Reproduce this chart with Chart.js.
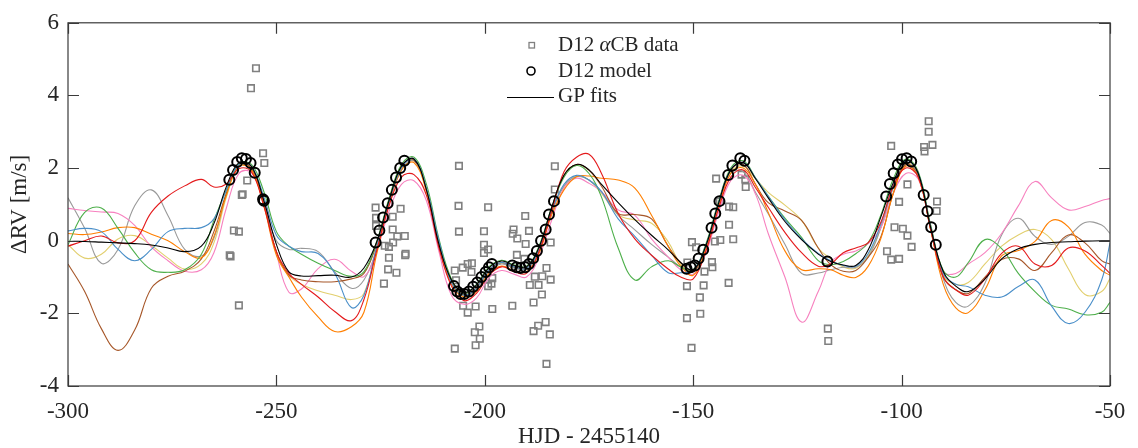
<!DOCTYPE html>
<html>
<head>
<meta charset="utf-8">
<script src="https://cdn.jsdelivr.net/npm/chart.js@4.4.1/dist/chart.umd.min.js"></script>
<style>
  html, body { margin: 0; padding: 0; background: #fff; }
  #wrap { width: 1138px; height: 448px; }
</style>
</head>
<body>
<div id="wrap"><canvas id="rvChart" width="1138" height="448"></canvas></div>
<script>
// tick values
const xTickValues = [-300, -250, -200, -150, -100, -50];
const yTickValues = [-4, -2, 0, 2, 4, 6];

// D12 alpha-CB data (grey squares)
const dataX = [-254.9, -256.1, -253.2, -252.9, -257.0, -258.1, -258.3, -260.2, -259.0, -261.0, -261.2, -259.0,
  -226.2, -226.1, -226.1, -220.2, -222.1, -222.1, -221.0, -219.2, -222.0, -224.0, -223.0, -219.0, -219.1, -223.0, -223.2, -221.2, -224.2,
  -206.2, -206.3, -199.2, -206.2, -200.2, -200.2, -199.2, -200.2, -207.2, -205.3, -204.1, -203.1, -203.2, -198.2, -198.4, -199.2, -206.9,
  -205.2, -204.1, -202.2, -198.2, -201.3, -202.4, -201.2, -202.2, -207.2,
  -193.4, -193.1, -193.3, -192.2, -190.3, -189.4, -190.2, -192.3, -190.5, -188.0, -186.2, -185.2, -184.2, -189.2, -187.1, -186.3,
  -188.3, -188.3, -187.2, -185.4, -184.4, -185.2, -184.2, -183.2, -183.2,
  -144.5, -138.4, -137.5, -137.4, -143.6, -141.4, -140.4, -141.4, -140.4, -143.5, -144.8, -150.3, -149.3, -151.4, -145.5, -145.4,
  -147.3, -151.5, -147.5, -141.5, -148.4, -148.3, -151.5, -150.4,
  -117.7, -117.6,
  -93.5, -93.5, -92.6, -94.6, -94.5, -102.5, -98.6, -100.6, -91.5, -91.6, -101.7, -99.7, -98.6, -97.6, -103.5, -102.5, -100.6];
const dataY = [4.75, 4.2, 2.41, 2.14, 1.66, 1.28, 1.26, 0.28, 0.25, -0.43, -0.4, -1.78,
  0.91, 0.63, 0.41, 0.88, 0.66, 0.31, 0.12, 0.13, -0.05, -0.14, -0.17, -0.36, -0.4, -0.47, -0.79, -0.88, -1.18,
  2.06, 0.96, 0.92, 0.25, 0.26, -0.11, -0.24, -0.34, -0.82, -0.74, -0.64, -0.62, -0.86, -1.03, -1.18, -1.25, -1.09,
  -1.79, -1.98, -1.81, -1.88, -2.36, -2.52, -2.7, -2.88, -2.97,
  -1.79, 0.31, 0.19, 0.06, 0.68, 0.27, -0.09, -0.39, -0.5, -0.99, -0.98, -0.75, -1.07, -1.22, -1.22, -1.48,
  -1.7, -2.49, -2.34, -2.24, -2.58, -3.39, -0.05, 1.41, 2.05,
  1.71, 1.82, 1.69, 1.48, 1.08, 0.94, 0.92, 0.44, 0.04, 0.02, -0.02, -0.04, -0.18, -0.6, -0.59, -0.73,
  -0.85, -1.25, -1.23, -1.16, -1.56, -2.01, -2.13, -2.95,
  -2.42, -2.76,
  3.29, 3.0, 2.64, 2.58, 2.46, 2.61, 1.55, 1.07, 1.08, 0.82, 0.37, 0.33, 0.14, -0.17, -0.29, -0.52, -0.5];

// D12 model (black circles)
const modelX = [-261.3, -260.4, -259.4, -258.3, -257.3, -256.2, -255.2, -253.2, -253.0,
  -226.2, -225.3, -224.4, -223.3, -222.3, -221.3, -220.3, -219.3,
  -207.4, -206.6, -205.8, -204.9, -203.8, -202.8, -201.8, -200.8, -199.8, -199.0, -198.3,
  -193.4, -192.4, -191.4, -190.3, -189.4, -188.4, -187.5, -186.5, -185.4, -184.6, -183.4,
  -151.6, -150.6, -149.6, -148.7, -147.6, -145.6, -144.7, -143.7, -141.6, -140.6, -138.7, -137.7,
  -117.8,
  -103.7, -102.8, -101.9, -100.9, -99.9, -98.8, -97.7, -94.7, -93.8, -92.9, -91.8];
const modelY = [1.68, 1.95, 2.17, 2.27, 2.25, 2.14, 1.87, 1.14, 1.1,
  -0.05, 0.28, 0.64, 1.03, 1.4, 1.74, 2.0, 2.2,
  -1.25, -1.4, -1.47, -1.47, -1.4, -1.27, -1.15, -1.0, -0.86, -0.73, -0.64,
  -0.68, -0.73, -0.75, -0.73, -0.64, -0.48, -0.28, 0.0, 0.31, 0.72, 1.09,
  -0.77, -0.73, -0.68, -0.49, -0.25, 0.36, 0.75, 1.09, 1.81, 2.07, 2.27, 2.2,
  -0.57,
  1.22, 1.56, 1.86, 2.1, 2.24, 2.27, 2.18, 1.26, 0.81, 0.37, -0.11];

// GP fits, sampled at common x knots
const fitX = [-300, -296, -292, -288, -284, -280, -276, -272, -268,
  -265, -262, -259, -256, -253, -250,
  -247, -244, -240, -236, -232, -229,
  -226, -223, -220, -217, -214, -211, -208, -205,
  -202, -199, -196, -193, -190, -187,
  -184, -181, -178, -175,
  -172, -168, -164, -160, -156, -153, -150,
  -147, -144, -141,
  -138, -135, -132, -128, -124, -120, -117, -114, -111, -108, -105,
  -102, -99, -96, -93,
  -90, -87, -84, -80, -76, -72, -68, -64, -60, -56, -52, -50];

const fitBlack = [-0.02, -0.02, -0.04, -0.06, -0.08, -0.12, -0.2, -0.3, -0.15,
  0.47, 1.49, 2.15, 2.05, 1.1, -0.1,
  -0.86, -0.97, -0.96, -0.95, -1.0, -0.75,
  -0.05, 1.1, 2.05, 2.25, 1.4, -0.1, -1.08, -1.42,
  -1.22, -0.75, -0.56, -0.68, -0.72, -0.18,
  0.9, 1.8, 2.1, 1.95,
  1.55, 1.05, 0.58, 0.15, -0.25, -0.6, -0.8,
  -0.15, 1.0, 1.95,
  2.15, 1.7, 1.18, 0.53, 0.03, -0.37, -0.57, -0.67, -0.68, -0.25, 0.65,
  1.6, 2.22, 1.85, 0.35,
  -0.85, -1.25, -1.4, -1.05, -0.5, -0.22, -0.1, -0.05, -0.03, -0.01, 0.0, 0.0];
const fitRed = [-0.15, 0.0, 0.13, -0.06, 0.0, 0.78, 1.23, 1.51, 1.69,
  1.48, 1.56, 1.98, 1.9, 0.95, -0.3,
  -0.9, -1.2, -1.55, -1.95, -2.2, -1.62,
  -0.3, 0.95, 1.75, 1.82, 1.25, -0.2, -1.25, -1.65,
  -1.45, -0.95, -0.72, -0.85, -0.9, -0.3,
  0.8, 1.9, 2.3, 2.38,
  1.85, 0.75, 0.05, -0.4, -0.78, -1.0, -1.05,
  -0.3, 0.85, 1.75,
  1.95, 1.45, 0.92, 0.23, -0.33, -0.7, -0.64, -0.33, -0.2, -0.05, 0.5,
  1.5, 2.0, 1.75, 0.3,
  -1.0, -1.35, -1.5, -1.05, -0.35, -0.15, -0.64, -0.68, -0.2, -0.28, -0.68, -0.9];
const fitBlue = [0.27, 0.34, 0.25, -0.24, -0.55, -0.24, 0.25, 0.34, 0.36,
  0.6, 1.4, 2.1, 2.05, 1.2, 0.15,
  -0.15, -0.3, -0.35, -0.9, -1.84, -1.5,
  -0.2, 1.05, 2.0, 2.25, 1.45, 0.0, -1.15, -1.5,
  -1.3, -0.8, -0.6, -0.72, -0.76, -0.25,
  0.8, 1.55, 1.8, 1.67,
  1.35, 0.6, 0.12, -0.4, -0.88, -0.88, -0.82,
  -0.15, 1.0, 1.95,
  2.15, 1.72, 1.22, 0.58, 0.05, -0.35, -0.55, -0.68, -0.7, -0.35, 0.45,
  1.55, 2.2, 1.85, 0.35,
  -0.9, -1.2, -1.27, -1.5, -1.55, -1.26, -1.08, -1.8, -2.28, -1.97, -1.08, -0.06];
const fitGreen = [-0.11, 0.78, 0.9, 0.34, -0.33, -0.8, -0.87, -0.8, -0.37,
  0.56, 1.4, 2.12, 2.1, 1.35, 0.25,
  -0.15, -0.37, -0.62, -0.82, -0.98, -0.85,
  -0.05, 1.15, 2.1, 2.3, 1.55, 0.05, -1.05, -1.45,
  -1.2, -0.72, -0.54, -0.66, -0.7, -0.15,
  0.9, 1.75, 2.07, 1.85,
  1.2, -0.2, -1.08, -0.72, -0.55, -0.72, -0.8,
  -0.1, 1.05, 2.0,
  2.2, 1.72, 1.23, 0.62, 0.09, -0.55, -0.66, -0.57, -0.36, -0.05, 0.7,
  1.7, 2.25, 1.9, 0.42,
  -0.82, -1.0, -0.6, 0.03, -0.22, -0.9, -1.4, -1.78, -1.88, -2.04, -1.97, -1.7];
const fitOrange = [0.2, 0.17, 0.24, 0.36, 0.36, 0.18, 0.0, -0.3, -0.47,
  0.12, 1.25, 2.05, 1.95, 0.95, -0.4,
  -1.0, -1.55, -2.1, -2.5, -2.37, -1.97,
  -0.4, 1.0, 1.95, 2.15, 1.35, -0.15, -1.2, -1.55,
  -1.4, -0.9, -0.7, -0.82, -0.86, -0.35,
  0.7, 1.4, 1.76, 1.78,
  1.72, 1.67, 1.45, 0.7, -0.15, -0.7, -0.95,
  -0.25, 0.9, 1.85,
  2.0, 1.54, 0.78, -0.28, -0.8, -0.77, -0.8, -0.95, -1.01, -0.7, 0.05,
  1.3, 2.05, 1.75, 0.28,
  -1.2, -1.85, -1.98, -1.35, -0.42, -0.27, -0.02, 0.56, 0.38, -0.37, -0.82, -0.95];
const fitBrown = [-0.64, -1.4, -2.42, -3.02, -2.46, -1.31, -0.98, -0.84, -0.5,
  0.25, 1.3, 2.1, 2.0, 1.0, -0.3,
  -0.95, -1.08, -1.13, -1.13, -1.05, -0.9,
  -0.1, 1.1, 2.05, 2.22, 1.4, -0.1, -1.12, -1.48,
  -1.28, -0.8, -0.6, -0.72, -0.75, -0.22,
  0.88, 1.8, 2.1, 1.94,
  1.5, 0.75, 0.72, 0.6, -0.15, -0.6, -0.85,
  -0.15, 1.0, 1.95,
  2.1, 1.54, 1.05, 0.82, 0.56, -0.2, -0.66, -0.84, -0.82, -0.45, 0.1,
  1.3, 2.1, 1.8, 0.3,
  -1.0, -1.35, -1.45, -1.0, -0.52, -0.5, -0.82, -0.33, 0.16, -0.06, -0.55, -0.64];
const fitPink = [0.89, 0.83, 0.79, 0.75, 0.42, -0.17, -0.55, -0.84, -0.8,
  -0.33, 0.9, 1.85, 1.88, 1.0, -0.35,
  -1.42, -1.33, -0.77, -0.51, -0.84, -0.99,
  -0.3, 0.8, 1.55, 1.65, 1.1, -0.3, -1.5, -1.75,
  -1.58, -1.02, -0.82, -0.92, -1.0, -0.45,
  0.55, 1.45, 1.72, 1.58,
  1.35, 0.85, 0.7, 0.05, -0.45, -0.8, -0.92,
  -0.35, 0.75, 1.65,
  1.8, 1.27, 0.2, -1.0, -2.24, -1.4, -0.6, -0.37, -0.28, -0.08, 0.35,
  1.3, 1.85, 1.7, 0.4,
  -0.85, -0.9, -0.64, -0.33, 0.2, 0.96, 1.63, 1.18, 0.85, 0.94, 1.11, 1.16];
const fitGray = [1.18, 0.34, -0.62, -0.24, 0.96, 1.4, 0.69, -0.24, -0.42,
  0.07, 1.3, 2.1, 2.0, 1.05, 0.0,
  -0.24, -0.21, -0.3, -0.86, -1.31, -1.08,
  -0.25, 1.0, 1.95, 2.2, 1.4, -0.05, -1.15, -1.52,
  -1.35, -0.85, -0.64, -0.76, -0.8, -0.3,
  0.75, 1.5, 1.76, 1.67,
  1.35, 0.7, 0.3, -0.1, -0.45, -0.72, -0.85,
  -0.2, 0.95, 1.85,
  1.9, 1.32, 0.74, -0.1, -0.9, -0.89, -0.8, -0.73, -0.73, -0.45, 0.35,
  1.45, 2.1, 1.75, 0.3,
  -1.05, -1.7, -1.8, -1.17, 0.16, 0.62, 0.12, -0.1, 0.12, 0.5, 0.43, 0.2];
const fitYellow = [-0.11, -0.48, -0.37, 0.05, 0.14, -0.13, -0.48, -0.78, -0.64,
  -0.06, 1.2, 2.05, 1.98, 1.0, -0.3,
  -0.95, -1.2, -1.38, -1.5, -1.62, -1.45,
  -0.2, 1.05, 1.95, 2.2, 1.38, -0.1, -1.15, -1.52,
  -1.32, -0.82, -0.62, -0.74, -0.78, -0.28,
  0.8, 1.5, 1.78, 1.67,
  1.3, 0.72, 0.57, 0.48, -0.03, -0.65, -0.85,
  -0.18, 0.98, 1.9,
  2.05, 1.7, 1.33, 0.98, 0.56, -0.2, -0.5, -0.72, -0.76, -0.4, 0.35,
  1.5, 2.15, 1.85, 0.38,
  -0.95, -1.2, -1.15, -0.64, -0.15, 0.16, 0.31, 0.03, -0.77, -1.48, -1.4, -1.04];

const serif = "'Liberation Serif', 'DejaVu Serif', serif";
const textColor = '#262626';

function pts(xs, ys) {
  return xs.map((x, i) => ({ x: x, y: ys[i] }));
}

function fitLine(ys, color) {
  return {
    type: 'line',
    data: pts(fitX, ys),
    borderColor: color,
    borderWidth: 1.1,
    pointRadius: 0,
    tension: 0.4,
    fill: false
  };
}

// inward ticks and box, like the original axes
const framePlugin = {
  id: 'frame',
  afterDatasetsDraw(chart) {
    const { ctx, chartArea: a, scales: { x, y } } = chart;
    ctx.save();
    ctx.strokeStyle = '#3a3a3a';
    ctx.lineWidth = 1.2;
    ctx.strokeRect(a.left, a.top, a.right - a.left, a.bottom - a.top);
    ctx.beginPath();
    xTickValues.forEach(v => {
      const px = Math.round(x.getPixelForValue(v)) + 0.5;
      ctx.moveTo(px, a.bottom); ctx.lineTo(px, a.bottom - 11);
      ctx.moveTo(px, a.top); ctx.lineTo(px, a.top + 11);
    });
    yTickValues.forEach(v => {
      const py = Math.round(y.getPixelForValue(v)) + 0.5;
      ctx.moveTo(a.left, py); ctx.lineTo(a.left + 11, py);
      ctx.moveTo(a.right, py); ctx.lineTo(a.right - 11, py);
    });
    ctx.stroke();
    ctx.restore();
  }
};

const legendPlugin = {
  id: 'boxLegend',
  afterDraw(chart) {
    const ctx = chart.ctx;
    const tx = 558;
    ctx.save();
    ctx.fillStyle = textColor;
    ctx.textBaseline = 'middle';
    ctx.font = '21px ' + serif;

    // data square
    ctx.strokeStyle = '#808080';
    ctx.lineWidth = 1.3;
    ctx.strokeRect(529, 42.5, 5.5, 5.5);
    let w = 0;
    ctx.fillText('D12 ', tx, 45);
    w = ctx.measureText('D12 ').width;
    ctx.font = 'italic 21px ' + serif;
    ctx.fillText('\u03b1', tx + w, 45);
    w += ctx.measureText('\u03b1').width;
    ctx.font = '21px ' + serif;
    ctx.fillText('CB data', tx + w, 45);

    // model circle
    ctx.strokeStyle = '#000';
    ctx.lineWidth = 1.6;
    ctx.beginPath();
    ctx.arc(531, 71, 4, 0, Math.PI * 2);
    ctx.stroke();
    ctx.fillText('D12 model', tx, 71);

    // fit line
    ctx.lineWidth = 1;
    ctx.beginPath();
    ctx.moveTo(507, 97.5);
    ctx.lineTo(554, 97.5);
    ctx.stroke();
    ctx.fillText('GP fits', tx, 96);
    ctx.restore();
  }
};

const config = {
  data: {
    datasets: [
      {
        type: 'scatter',
        data: pts(modelX, modelY),
        pointStyle: 'circle',
        pointRadius: 5,
        pointBorderWidth: 2,
        borderColor: '#000',
        backgroundColor: 'rgba(0,0,0,0)',
        pointBackgroundColor: 'rgba(0,0,0,0)',
        pointBorderColor: '#000'
      },
      fitLine(fitBlack, '#000000'),
      fitLine(fitRed, '#e41a1c'),
      fitLine(fitBlue, '#4a8fc9'),
      fitLine(fitGreen, '#4daf4a'),
      fitLine(fitOrange, '#ff7f00'),
      fitLine(fitBrown, '#a65628'),
      fitLine(fitPink, '#f781bf'),
      fitLine(fitGray, '#999999'),
      fitLine(fitYellow, '#e2cf6e'),
      {
        type: 'scatter',
        data: pts(dataX, dataY),
        pointStyle: 'rect',
        pointRadius: 4.6,
        pointBorderWidth: 1.6,
        borderColor: '#808080',
        pointBorderColor: '#808080',
        backgroundColor: 'rgba(0,0,0,0)',
        pointBackgroundColor: 'rgba(0,0,0,0)'
      }
    ]
  },
  options: {
    responsive: false,
    animation: false,
    devicePixelRatio: 1,
    layout: { padding: { left: 0, right: 28, top: 11, bottom: 0 } },
    plugins: {
      legend: { display: false },
      tooltip: { enabled: false }
    },
    scales: {
      x: {
        type: 'linear',
        min: -300,
        max: -50,
        ticks: {
          stepSize: 50,
          padding: 12,
          color: textColor,
          font: { family: serif, size: 23 }
        },
        grid: { display: false, drawTicks: false },
        border: { display: false },
        title: {
          display: true,
          text: 'HJD - 2455140',
          color: textColor,
          font: { family: serif, size: 23, lineHeight: 1.0 },
          padding: { top: 0, bottom: 0 }
        },
        afterFit(scale) { scale.height = 62; }
      },
      y: {
        type: 'linear',
        min: -4,
        max: 6,
        ticks: {
          stepSize: 2,
          padding: 9,
          color: textColor,
          font: { family: serif, size: 23 }
        },
        grid: { display: false, drawTicks: false },
        border: { display: false },
        title: {
          display: true,
          text: '\u0394RV [m/s]',
          color: textColor,
          font: { family: serif, size: 23, lineHeight: 1.1 },
          padding: { top: 7, bottom: 0 }
        },
        afterFit(scale) { scale.width = 68; }
      }
    }
  },
  plugins: [framePlugin, legendPlugin]
};

new Chart(document.getElementById('rvChart'), config);
</script>
</body>
</html>
